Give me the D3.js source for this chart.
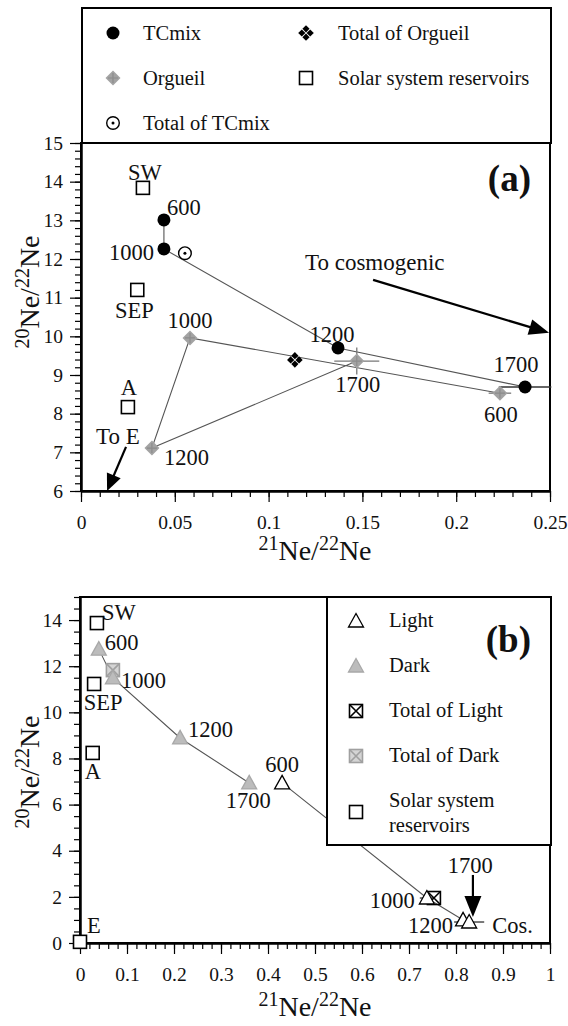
<!DOCTYPE html>
<html>
<head>
<meta charset="utf-8">
<script src="https://cdn.jsdelivr.net/npm/d3@7"></script>
<style>
  body { margin: 0; background: #fff; }
  svg { display: block; }
  text { font-family: "Liberation Serif", "DejaVu Serif", serif; fill: #111; }
</style>
</head>
<body>
<svg id="chart" width="568" height="1026"></svg>
<script>
// ---- panel (a): TCmix and Orgueil ----
const stepsA = ["600", "1000", "1200", "1700"]
const tcmixX = [0.0442, 0.0442, 0.137, 0.2367]
const tcmixY = [13.01, 12.26, 9.70, 8.69]
const tcmixErrX = [0, 0, 0, 0.014]
const orgueilX = [0.2233, 0.0581, 0.0378, 0.147]
const orgueilY = [8.53, 9.96, 7.11, 9.36]
const orgueilErrX = [0.006, 0, 0, 0.012]
const orgueilErrY = [0, 0, 0, 0.35]
const tcmixTotal = [0.0554, 12.15]
const orgueilTotal = [0.114, 9.39]
const reservoirsA = ["SW", "SEP", "A"]
const reservoirsAX = [0.033, 0.030, 0.025]
const reservoirsAY = [13.84, 11.20, 8.17]
const xTicksA = [0, 0.05, 0.1, 0.15, 0.2, 0.25]
const yTicksA = [6, 7, 8, 9, 10, 11, 12, 13, 14, 15]
const legendA = ["TCmix", "Total of Orgueil", "Orgueil", "Solar system reservoirs", "Total of TCmix"]

// ---- panel (b): Light and Dark ----
const stepsB = ["600", "1000", "1200", "1700"]
const lightX = [0.430, 0.738, 0.815, 0.828]
const lightY = [6.94, 1.95, 1.00, 0.91]
const lightErrX = [0, 0.015, 0, 0.032]
const darkX = [0.040, 0.070, 0.213, 0.360]
const darkY = [12.74, 11.49, 8.89, 6.94]
const lightTotal = [0.753, 1.95]
const darkTotal = [0.070, 11.83]
const reservoirsB = ["SW", "SEP", "A", "E"]
const reservoirsBX = [0.036, 0.030, 0.027, 0.0]
const reservoirsBY = [13.87, 11.23, 8.24, 0.05]
const xTicksB = [0, 0.1, 0.2, 0.3, 0.4, 0.5, 0.6, 0.7, 0.8, 0.9, 1]
const yTicksB = [0, 2, 4, 6, 8, 10, 12, 14]
const legendB = ["Light", "Dark", "Total of Light", "Total of Dark", "Solar system", "reservoirs"]

// arrows and notes (data units)
const arrowToE = [[0.024, 7.14], [0.0139, 6.0]]
const arrowCosmo = [[0.1557, 11.46], [0.2495, 10.09]]
const arrowCosB = [[0.836, 2.95], [0.836, 1.13]]

// label placement, px offsets from the point: [dx, dy, anchor]
const posTc = [[3, -5, "start"], [-10, 11, "end"], [-6, -6, "middle"], [-9, -15, "middle"]]
const posOrg = [[1, 29, "middle"], [0, -10, "middle"], [12, 17, "start"], [1, 31, "middle"]]
const posResA = [[2, -8, "middle"], [-3, 28, "middle"], [1, -12, "middle"]]
const posLight = [[0, -11, "middle"], [-12, 10, "end"], [-10, 13, "end"], [1, -49, "middle"]]
const posDark = [[6, 1, "start"], [8, 10, "start"], [8, -1, "start"], [-1, 25, "middle"]]
const posResB = [[5, -3, "start"], [9, 26, "middle"], [-8, 26, "start"], [7, -9, "start"]]

const svg = d3.select("#chart")
const serif = "Liberation Serif, DejaVu Serif, serif"
const lineCol = "#555"
const gray = "#a3a3a3"

const xA = d3.scaleLinear().domain([0, 0.25]).range([81, 550])
const yA = d3.scaleLinear().domain([6, 15]).range([491, 143])
const xB = d3.scaleLinear().domain([0, 1]).range([80, 550])
const yB = d3.scaleLinear().domain([0, 15]).range([943, 597])

function marker(g, type, cx, cy) {
  const m = g.append("g").attr("transform", `translate(${cx},${cy})`)
  if (type == "dot") {
    m.append("circle").attr("r", 6.5).attr("fill", "#000")
  } else if (type == "ring") {
    m.append("circle").attr("r", 6.3).attr("fill", "#fff").attr("stroke", "#000").attr("stroke-width", 1.4)
    m.append("circle").attr("r", 1.5).attr("fill", "#000")
  } else if (type == "diamond") {
    m.append("path").attr("d", "M0,-7.5L7.5,0L0,7.5L-7.5,0Z").attr("fill", gray)
    m.append("path").attr("d", "M-5,0H5M0,-5V5").attr("stroke", "#8c8c8c").attr("stroke-width", 1.2)
  } else if (type == "quad") {
    [[0, -4.2], [4.2, 0], [0, 4.2], [-4.2, 0]].forEach(function(o) {
      m.append("path").attr("d", `M${o[0]},${o[1] - 3.6}L${o[0] + 3.6},${o[1]}L${o[0]},${o[1] + 3.6}L${o[0] - 3.6},${o[1]}Z`).attr("fill", "#000")
    })
  } else if (type == "square") {
    m.append("rect").attr("x", -6.5).attr("y", -6.5).attr("width", 13).attr("height", 13)
      .attr("fill", "#fff").attr("stroke", "#000").attr("stroke-width", 1.6)
  } else if (type == "tri" || type == "triGray") {
    m.append("path").attr("d", "M0,-7.5L7.5,6L-7.5,6Z")
      .attr("fill", type == "tri" ? "#fff" : "#bcbcbc")
      .attr("stroke", type == "tri" ? "#000" : "#a8a8a8").attr("stroke-width", 1.3)
  } else if (type == "xsq" || type == "xsqGray") {
    const c = type == "xsq" ? "#000" : "#a0a0a0"
    m.append("rect").attr("x", -6.5).attr("y", -6.5).attr("width", 13).attr("height", 13)
      .attr("fill", type == "xsq" ? "none" : "#d4d4d4").attr("stroke", c).attr("stroke-width", 1.6)
    m.append("path").attr("d", "M-6.5,-6.5L6.5,6.5M6.5,-6.5L-6.5,6.5").attr("stroke", c).attr("stroke-width", 1.6)
  }
}

function arrow(x, y, pts, len, wid) {
  const x0 = x(pts[0][0]), y0 = y(pts[0][1]), x1 = x(pts[1][0]), y1 = y(pts[1][1])
  const d = Math.hypot(x1 - x0, y1 - y0), ux = (x1 - x0) / d, uy = (y1 - y0) / d
  const bx = x1 - ux * len, by = y1 - uy * len
  svg.append("line").attr("x1", x0).attr("y1", y0).attr("x2", bx + ux * 2).attr("y2", by + uy * 2)
    .attr("stroke", "#000").attr("stroke-width", 2.2)
  svg.append("path")
    .attr("d", `M${x1},${y1}L${bx - uy * wid / 2},${by + ux * wid / 2}L${bx + uy * wid / 2},${by - ux * wid / 2}Z`)
    .attr("fill", "#000")
}

function axes(x, y, xTicks, yTicks, xMinor, yMinor) {
  const bottom = y.range()[0], left = x.range()[0]
  svg.append("g").attr("transform", `translate(0,${bottom})`)
    .call(d3.axisBottom(x).tickValues(xMinor).tickSize(6).tickSizeOuter(0).tickFormat(""))
  svg.append("g").attr("transform", `translate(${left},0)`)
    .call(d3.axisLeft(y).tickValues(yMinor).tickSize(6).tickSizeOuter(0).tickFormat(""))
  const gx = svg.append("g").attr("transform", `translate(0,${bottom})`)
    .call(d3.axisBottom(x).tickValues(xTicks).tickFormat(d => String(d)).tickSize(11).tickSizeOuter(0).tickPadding(13))
  const gy = svg.append("g").attr("transform", `translate(${left},0)`)
    .call(d3.axisLeft(y).tickValues(yTicks).tickFormat(d => String(d)).tickSize(11).tickSizeOuter(0).tickPadding(7))
  svg.selectAll(".tick line").attr("stroke", "#000").attr("stroke-width", 1.2)
  svg.selectAll(".domain").attr("stroke", "#000").attr("stroke-width", 2)
  ;[gx, gy].forEach(g => g.attr("font-family", serif).attr("font-size", 19.5)
    .selectAll("text").attr("fill", "#111"))
}

function frame(x0, y0, x1, y1, fill) {
  svg.append("rect").attr("x", x0).attr("y", y0).attr("width", x1 - x0).attr("height", y1 - y0)
    .attr("fill", fill || "none").attr("stroke", "#000").attr("stroke-width", 2)
}

function ratioLabel(x, y, sup, rotate) {
  const t = svg.append("text").attr("text-anchor", "middle")
    .attr("transform", `translate(${x},${y})` + (rotate ? " rotate(-90)" : ""))
  t.append("tspan").attr("font-size", 20).attr("dy", -10).text(sup)
  t.append("tspan").attr("font-size", 28).attr("dy", 10).text("Ne/")
  t.append("tspan").attr("font-size", 20).attr("dy", -10).text("22")
  t.append("tspan").attr("font-size", 28).attr("dy", 10).text("Ne")
}

function label(x, y, str, pos, size) {
  svg.append("text").attr("x", x + pos[0]).attr("y", y + pos[1]).attr("text-anchor", pos[2])
    .attr("font-size", size || 22.5).text(str)
}

function errBars(x, y, xs, ys, ex, ey, col) {
  xs.forEach(function(v, i) {
    if (ex[i] > 0) svg.append("line").attr("x1", x(v - ex[i])).attr("x2", x(v + ex[i]))
      .attr("y1", y(ys[i])).attr("y2", y(ys[i])).attr("stroke", col).attr("stroke-width", 1.3)
    if (ey && ey[i] > 0) svg.append("line").attr("x1", x(v)).attr("x2", x(v))
      .attr("y1", y(ys[i] - ey[i])).attr("y2", y(ys[i] + ey[i])).attr("stroke", col).attr("stroke-width", 1.3)
  })
}

// ================= panel (a) =================
axes(xA, yA, xTicksA, yTicksA, d3.range(0, 0.2501, 0.01), d3.range(6, 15.01, 0.2))
frame(81, 143, 550, 491)

const lineA = d3.line().x(d => xA(d[0])).y(d => yA(d[1]))
svg.append("path").attr("d", lineA(d3.zip(tcmixX, tcmixY)))
  .attr("fill", "none").attr("stroke", lineCol).attr("stroke-width", 1.1)
svg.append("path").attr("d", lineA(d3.zip(orgueilX, orgueilY)))
  .attr("fill", "none").attr("stroke", lineCol).attr("stroke-width", 1.1)

errBars(xA, yA, tcmixX, tcmixY, tcmixErrX, null, "#333")
errBars(xA, yA, orgueilX, orgueilY, orgueilErrX, orgueilErrY, "#777")

orgueilX.forEach((v, i) => marker(svg, "diamond", xA(v), yA(orgueilY[i])))
tcmixX.forEach((v, i) => marker(svg, "dot", xA(v), yA(tcmixY[i])))
marker(svg, "ring", xA(tcmixTotal[0]), yA(tcmixTotal[1]))
marker(svg, "quad", xA(orgueilTotal[0]), yA(orgueilTotal[1]))
reservoirsAX.forEach((v, i) => marker(svg, "square", xA(v), yA(reservoirsAY[i])))

stepsA.forEach((s, i) => label(xA(tcmixX[i]), yA(tcmixY[i]), s, posTc[i]))
stepsA.forEach((s, i) => label(xA(orgueilX[i]), yA(orgueilY[i]), s, posOrg[i]))
reservoirsA.forEach((s, i) => label(xA(reservoirsAX[i]), yA(reservoirsAY[i]), s, posResA[i]))

arrow(xA, yA, arrowToE, 17, 15)
arrow(xA, yA, arrowCosmo, 20, 16)
svg.append("text").attr("x", xA(0.008)).attr("y", yA(7.22)).attr("font-size", 23).text("To E")
svg.append("text").attr("x", xA(0.1194)).attr("y", yA(11.72)).attr("font-size", 23).text("To cosmogenic")

svg.append("text").attr("x", 531).attr("y", 191).attr("text-anchor", "end")
  .attr("font-size", 37).attr("font-weight", "bold").text("(a)")

// legend (a)
frame(82, 8, 551, 143, "#fff")
const legAMarks = ["dot", "quad", "diamond", "square", "ring"]
const legACol = [[113, 143], [306, 338]]
const legARow = [40, 85, 130]
legendA.forEach(function(s, i) {
  const c = legACol[i % 2], r = legARow[Math.floor(i / 2)]
  marker(svg, legAMarks[i], c[0], r - 7)
  svg.append("text").attr("x", c[1]).attr("y", r).attr("font-size", 20.5).text(s)
})

ratioLabel(315, 560, "21", false)
ratioLabel(39, 292, "20", true)

// ================= panel (b) =================
axes(xB, yB, xTicksB, yTicksB, d3.range(0, 1.001, 0.02), d3.range(0, 15.01, 0.5))
frame(80, 597, 550, 943)

const lineB = d3.line().x(d => xB(d[0])).y(d => yB(d[1]))
svg.append("path").attr("d", lineB(d3.zip(darkX, darkY)))
  .attr("fill", "none").attr("stroke", lineCol).attr("stroke-width", 1.1)
svg.append("path").attr("d", lineB(d3.zip(lightX, lightY)))
  .attr("fill", "none").attr("stroke", lineCol).attr("stroke-width", 1.1)
errBars(xB, yB, lightX, lightY, lightErrX, null, "#333")

marker(svg, "xsqGray", xB(darkTotal[0]), yB(darkTotal[1]))
darkX.forEach((v, i) => marker(svg, "triGray", xB(v), yB(darkY[i])))
marker(svg, "xsq", xB(lightTotal[0]), yB(lightTotal[1]))
lightX.forEach((v, i) => marker(svg, "tri", xB(v), yB(lightY[i])))
reservoirsBX.forEach((v, i) => marker(svg, "square", xB(v), yB(reservoirsBY[i])))

stepsB.forEach((s, i) => label(xB(darkX[i]), yB(darkY[i]), s, posDark[i]))
stepsB.forEach((s, i) => label(xB(lightX[i]), yB(lightY[i]), s, posLight[i]))
reservoirsB.forEach((s, i) => label(xB(reservoirsBX[i]), yB(reservoirsBY[i]), s, posResB[i]))

arrow(xB, yB, arrowCosB, 21, 17)
svg.append("text").attr("x", xB(0.877)).attr("y", yB(0.43)).attr("font-size", 22.5).text("Cos.")

// legend (b)
frame(327, 597, 551, 845, "#fff")
const legBMarks = ["tri", "triGray", "xsq", "xsqGray", "square"]
const legBRow = [627, 672, 717, 762, 807, 832]
legendB.forEach(function(s, i) {
  if (i < 5) marker(svg, legBMarks[i], 356, i == 4 ? 812 : legBRow[i] - 6)
  svg.append("text").attr("x", 389).attr("y", legBRow[i]).attr("font-size", 20.5).text(s)
})
svg.append("text").attr("x", 531).attr("y", 652).attr("text-anchor", "end")
  .attr("font-size", 37).attr("font-weight", "bold").text("(b)")

ratioLabel(315, 1016, "21", false)
ratioLabel(39, 772, "20", true)
</script>
</body>
</html>
